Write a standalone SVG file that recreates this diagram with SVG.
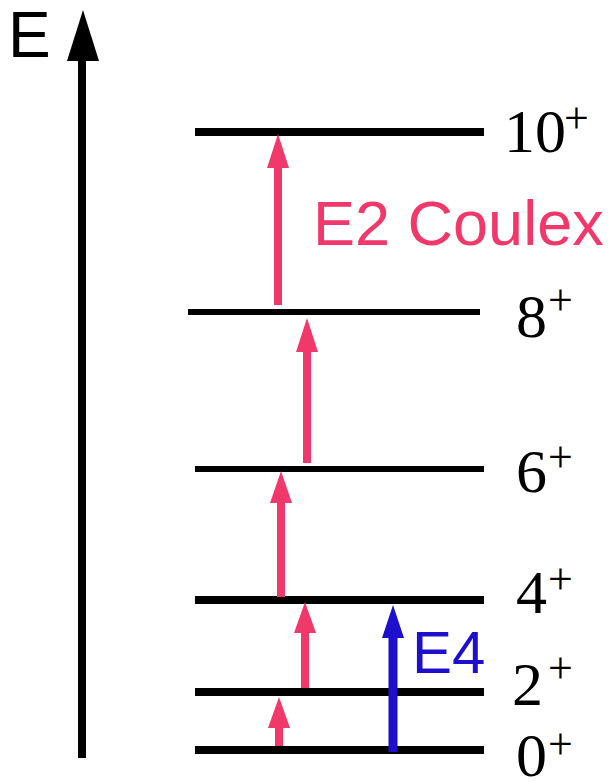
<svg xmlns="http://www.w3.org/2000/svg" width="608" height="783" viewBox="0 0 608 783">
<style>
.lvl{stroke:#000;stroke-width:8;fill:none}
.thin{stroke-width:6}
.lab{font-family:"Liberation Serif","Times New Roman",serif;font-size:62px;fill:#000}
.sup{font-family:"Liberation Serif","Times New Roman",serif;font-size:44px;fill:#000}
.pk{stroke:#f0386b;stroke-width:8;fill:none}
.pkh{fill:#f0386b}
.bl{stroke:#1e0fcc;stroke-width:9;fill:none}
.blh{fill:#1e0fcc}
.sans{font-family:"Liberation Sans",Arial,sans-serif}
</style>
<rect width="608" height="783" fill="#fff"/>
<g id="axis">
<line x1="82" y1="758" x2="82" y2="56" stroke="#000" stroke-width="8"/>
<polygon points="83,10 99,61 67,61" fill="#000"/>
<text class="sans" x="8" y="57" font-size="64" fill="#000">E</text>
</g>
<g id="level-10">
<line class="lvl" x1="195" y1="132" x2="484" y2="132"/>
<text class="lab" x="504" y="152">10</text><text class="sup" x="564" y="133">+</text>
</g>
<g id="level-8">
<line class="lvl thin" x1="188" y1="312" x2="480" y2="312"/>
<text class="lab" x="516" y="337">8</text><text class="sup" x="548" y="315">+</text>
</g>
<g id="level-6">
<line class="lvl thin" x1="195" y1="469" x2="484" y2="469"/>
<text class="lab" x="516" y="492">6</text><text class="sup" x="548" y="472">+</text>
</g>
<g id="level-4">
<line class="lvl" x1="195" y1="600" x2="484" y2="600"/>
<text class="lab" x="516" y="613">4</text><text class="sup" x="548" y="594">+</text>
</g>
<g id="level-2">
<line class="lvl" x1="195" y1="692" x2="484" y2="692"/>
<text class="lab" x="512" y="705">2</text><text class="sup" x="548" y="683">+</text>
</g>
<g id="level-0">
<line class="lvl" x1="195" y1="750" x2="484" y2="750"/>
<text class="lab" x="516" y="776">0</text><text class="sup" x="548" y="759">+</text>
</g>
<g id="labels">
<text class="sans" x="313" y="245" font-size="63" fill="#f0386b">E2 Coulex</text>
<text class="sans" x="412" y="673" font-size="60" fill="#1e0fcc">E4</text>
</g>
<g id="connectors">
<line class="pk" x1="279" y1="746" x2="279" y2="725"/>
<polygon class="pkh" points="279,697 290,728 268,728"/>
<line class="pk" x1="305" y1="688" x2="305" y2="630"/>
<polygon class="pkh" points="305,602 316,633 294,633"/>
<line class="pk" x1="281" y1="597" x2="281" y2="500"/>
<polygon class="pkh" points="281,471 292,503 270,503"/>
<line class="pk" x1="307" y1="463" x2="307" y2="350"/>
<polygon class="pkh" points="307,318 318,352 296,352"/>
<line class="pk" x1="278" y1="305" x2="278" y2="165"/>
<polygon class="pkh" points="278,134 289,168 267,168"/>
<line class="bl" x1="393" y1="752" x2="393" y2="635"/>
<polygon class="blh" points="393,605 404,638 382,638"/>
</g>
</svg>
